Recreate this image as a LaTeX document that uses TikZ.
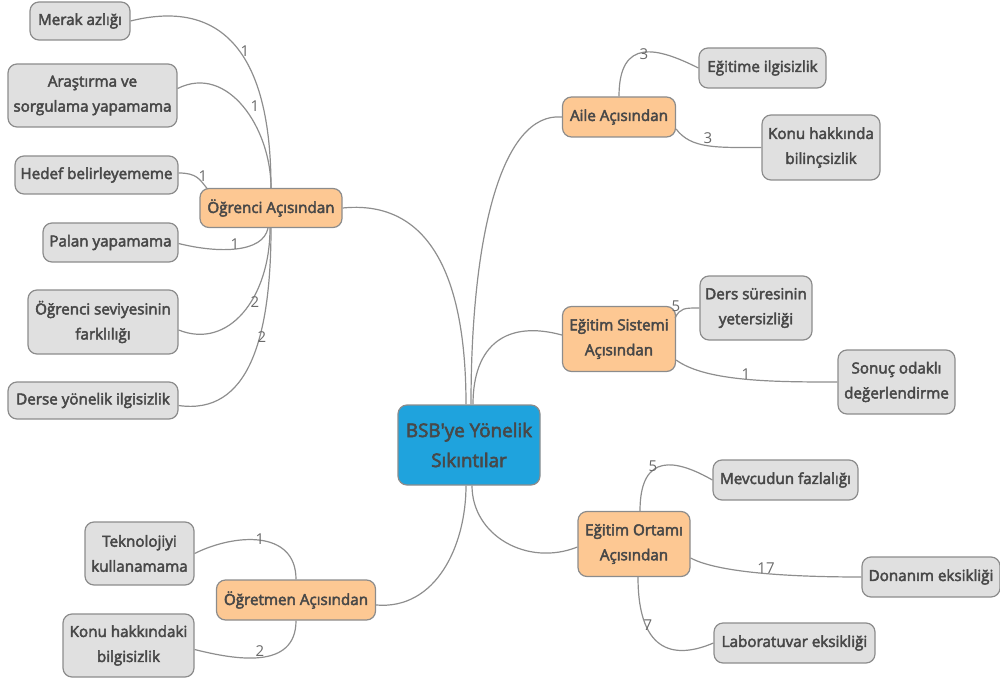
\documentclass[tikz,border=0pt]{standalone}
\usepackage{fontspec}
\setmainfont{Open Sans}
\newfontfamily\boldface{Open Sans}[FakeBold=3]
\usetikzlibrary{calc}
\definecolor{txt}{HTML}{484848}
\definecolor{bord}{HTML}{8C8C8C}
\definecolor{leaf}{HTML}{E0E0E0}
\definecolor{mid}{HTML}{FDC893}
\definecolor{root}{HTML}{1FA3DD}
\definecolor{wire}{HTML}{8E8E8E}
\definecolor{lbl}{HTML}{6A6A6A}
\tikzset{
  box/.style={draw=bord, line width=0.6pt, rounded corners=4.5pt, align=center,
    text=txt, font=\fontsize{7.6}{12.5}\selectfont\boldface, inner sep=1pt},
  leafbox/.style={box, fill=leaf},
  midbox/.style={box, fill=mid},
  rootbox/.style={box, fill=root, font=\fontsize{9.4}{15}\selectfont\boldface},
  wirestyle/.style={draw=wire, line width=0.6pt},
  num/.style={text=lbl, font=\fontsize{7.5}{9}\selectfont, inner sep=0pt}
}
\begin{document}
\begin{tikzpicture}[x=0.5pt,y=-0.5pt]
\path[use as bounding box] (0,0) rectangle (1000,684);

% root
\node[rootbox, minimum width=71pt, minimum height=40pt] (c) at (469,445) {BSB\char39 ye Yönelik\\Sıkıntılar};

% branches
\node[midbox, minimum width=71pt, minimum height=19.5pt] (oa) at (271,208) {Öğrenci Açısından};
\node[midbox, minimum width=56.5pt, minimum height=20pt] (aa) at (619,117) {Aile Açısından};
\node[midbox, minimum width=56.5pt, minimum height=32.5pt] (es) at (619,339) {Eğitim Sistemi\\Açısından};
\node[midbox, minimum width=56pt, minimum height=32.5pt] (eo) at (634,544) {Eğitim Ortamı\\Açısından};
\node[midbox, minimum width=79.5pt, minimum height=20pt] (ta) at (296,600) {Öğretmen Açısından};

% leaves
\node[leafbox, minimum width=50pt, minimum height=19pt] (l1) at (80,21) {Merak azlığı};
\node[leafbox, minimum width=84.5pt, minimum height=31.5pt] (l2) at (92.5,95.5) {Araştırma ve\\sorgulama yapamama};
\node[leafbox, minimum width=81.5pt, minimum height=19pt] (l3) at (96.5,175) {Hedef belirleyememe};
\node[leafbox, minimum width=67.5pt, minimum height=19.5pt] (l4) at (110.5,242.5) {Palan yapamama};
\node[leafbox, minimum width=75pt, minimum height=32pt] (l5) at (103,322) {Öğrenci seviyesinin\\farklılığı};
\node[leafbox, minimum width=85pt, minimum height=18.5pt] (l6) at (93,400.5) {Derse yönelik ilgisizlik};

\node[leafbox, minimum width=63.5pt, minimum height=20pt] (a1) at (762.5,68) {Eğitime ilgisizlik};
\node[leafbox, minimum width=59pt, minimum height=32.5pt] (a2) at (821,147.5) {Konu hakkında\\bilinçsizlik};

\node[leafbox, minimum width=56pt, minimum height=32pt] (s1) at (756,308) {Ders süresinin\\yetersizliği};
\node[leafbox, minimum width=58.5pt, minimum height=32pt] (s2) at (896.5,382) {Sonuç odaklı\\değerlendirme};

\node[leafbox, minimum width=72.5pt, minimum height=20pt] (o1) at (785.5,480) {Mevcudun fazlalığı};
\node[leafbox, minimum width=69pt, minimum height=20pt] (o2) at (931,577) {Donanım eksikliği};
\node[leafbox, minimum width=80.5pt, minimum height=20pt] (o3) at (794.5,643) {Laboratuvar eksikliği};

\node[leafbox, minimum width=54.5pt, minimum height=31.5pt] (t1) at (139.5,553.5) {Teknolojiyi\\kullanamama};
\node[leafbox, minimum width=65.5pt, minimum height=31.5pt] (t2) at (128.5,645.5) {Konu hakkındaki\\bilgisizlik};

% root connectors
\draw[wirestyle] (oa.east) .. controls +(80,-8) and +(0,-140) .. ($(c.north)+(-3,0)$);
\draw[wirestyle] (aa.west) .. controls +(-60,-5) and +(0,-170) .. ($(c.north)+(2,0)$);
\draw[wirestyle] ($(es.west)+(0,-4)$) .. controls +(-55,-15) and +(0,-60) .. ($(c.north)+(4,0)$);
\draw[wirestyle] ($(eo.west)+(0,3)$) .. controls +(-50,20) and +(0,50) .. ($(c.south)+(3,0)$);
\draw[wirestyle] ($(ta.east)+(0,5)$) .. controls +(60,5) and +(0,60) .. ($(c.south)+(-3,0)$);

% Öğrenci children
\draw[wirestyle] (oa.north) .. controls +(0,-150) and +(80,-20) .. (l1.east);
\draw[wirestyle] (oa.north) .. controls +(0,-60) and +(50,-25) .. ($(l2.east)+(0,-7)$);
\draw[wirestyle] ($(l3.east)+(0,-2)$) .. controls +(18,0) and +(-8,-10) .. ($(oa.north west)+(8,1)$);
\draw[wirestyle] ($(oa.south)+(-3,0)$) .. controls +(-5,25) and +(40,10) .. ($(l4.east)+(0,1)$);
\draw[wirestyle] ($(oa.south)+(-1,0)$) .. controls +(0,70) and +(50,20) .. ($(l5.east)+(0,8)$);
\draw[wirestyle] (oa.south) .. controls +(0,110) and +(70,10) .. ($(l6.east)+(0,5)$);

% Aile children
\draw[wirestyle] (aa.north) .. controls +(0,-60) and +(-40,-20) .. (a1.west);
\draw[wirestyle] ($(aa.east)+(0,12)$) .. controls +(15,20) and +(-45,0) .. (a2.west);

% Eğitim sistemi children
\draw[wirestyle] ($(es.north east)+(-1,12)$) .. controls +(5,-10) and +(-15,0) .. (s1.west);
\draw[wirestyle] ($(es.east)+(0,21)$) .. controls +(30,22) and +(-60,0) .. (s2.west);

% Eğitim ortamı children
\draw[wirestyle] ($(eo.north)+(6,0)$) .. controls +(0,-60) and +(-35,-20) .. (o1.west);
\draw[wirestyle] ($(eo.east)+(0,14)$) .. controls +(30,16) and +(-60,0) .. (o2.west);
\draw[wirestyle] ($(eo.south)+(4,0)$) .. controls +(0,80) and +(-35,15) .. (o3.west);

% Öğretmen children
\draw[wirestyle] (ta.north) .. controls +(0,-50) and +(40,-20) .. (t1.east);
\draw[wirestyle] (ta.south) .. controls +(0,50) and +(40,10) .. ($(t2.east)+(0,4)$);

% labels
\node[num] (n1) at (245,51) {1};
\node[num] (n2) at (255,106) {1};
\node[num] (n3) at (203,176) {1};
\node[num] (n4) at (235,244) {1};
\node[num] (n5) at (255,302) {2};
\node[num] (n6) at (262,337) {2};
\node[num] (n7) at (644,54) {3};
\node[num] (n8) at (708,138) {3};
\node[num] (n9) at (676,306) {5};
\node[num] (n10) at (746,374) {1};
\node[num] (n11) at (653,466) {5};
\node[num] (n12) at (766,568) {17};
\node[num] (n13) at (648,625) {7};
\node[num] (n14) at (260,539) {1};
\node[num] (n15) at (260,651) {2};
\end{tikzpicture}
\end{document}
